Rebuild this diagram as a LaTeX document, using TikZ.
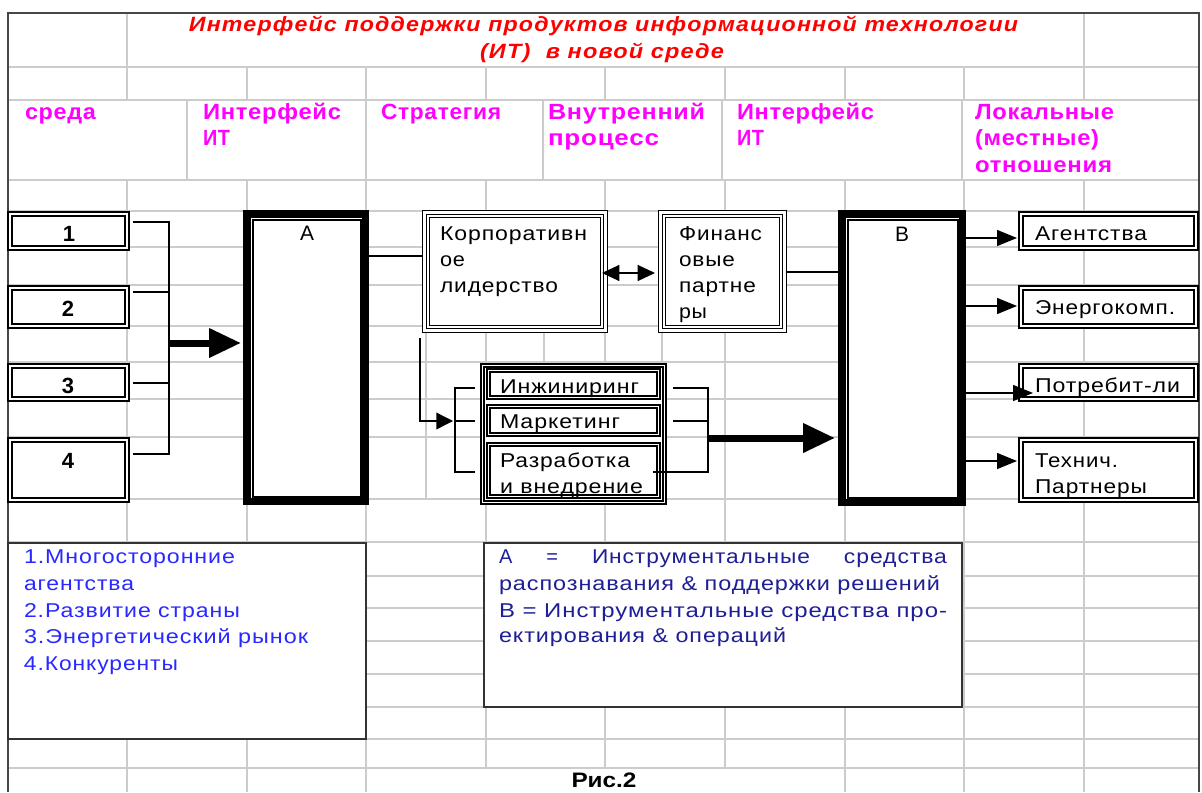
\documentclass[tikz,border=0pt]{standalone}
\usepackage{fontspec}
\setmainfont{Liberation Sans}
\newfontfamily\dgfont[LetterSpace=4]{Liberation Sans}
\newfontfamily\hdfont[LetterSpace=3]{Liberation Sans}
\newfontfamily\tlfont[LetterSpace=5]{Liberation Sans}
\usetikzlibrary{arrows.meta,fit,calc}
\newdimen\pxu \pxu=0.75pt
\newcommand\fw[2]{\resizebox{#1\pxu}{\height}{#2}}
\definecolor{gridc}{RGB}{204,204,204}
\definecolor{framec}{RGB}{70,70,70}
\definecolor{titlered}{RGB}{255,0,0}
\definecolor{hdmag}{RGB}{255,0,255}
\definecolor{lgblue}{RGB}{40,40,255}
\definecolor{lgnavy}{RGB}{30,30,150}
\newcommand\dblframe[2]{%
  \draw[bline] ($(#1.north west)+(1.2,1.2)$) rectangle ($(#1.south east)+(-1.2,-1.2)$);
  \draw[bline] ($(#1.north west)+(#2,#2)$) rectangle ($(#1.south east)+(-#2,-#2)$);}
\newcommand\triframe[1]{%
  \draw[tline] ($(#1.north west)+(0.8,0.8)$) rectangle ($(#1.south east)+(-0.8,-0.8)$);
  \draw[tline] ($(#1.north west)+(4.2,4.2)$) rectangle ($(#1.south east)+(-4.2,-4.2)$);
  \draw[tline] ($(#1.north west)+(7.6,7.6)$) rectangle ($(#1.south east)+(-7.6,-7.6)$);}
\newcommand\heavyframe[1]{%
  \fill[black] (#1.north west) rectangle (#1.south east);
  \fill[white] ($(#1.north west)+(7.5,7.5)$) rectangle ($(#1.south east)+(-7.5,-7.5)$);
  \draw[line width=1.1pt] ($(#1.north west)+(10,10)$) rectangle ($(#1.south east)+(-8,-8)$);}
\begin{document}
\begin{tikzpicture}[x=0.75pt,y=-0.75pt,
  grid/.style={gridc,line width=1.2pt},
  bx/.style={inner sep=0pt,outer sep=0pt,fill=white},
  bline/.style={black,line width=1.1pt},
  tline/.style={black,line width=0.95pt},
  legline/.style={black!80,line width=1.1pt},
  tx/.style={anchor=base west,inner sep=0pt,outer sep=0pt},
  dg/.style={font=\dgfont\fontsize{15}{17}\selectfont},
  hd/.style={text=hdmag,font=\hdfont\bfseries\fontsize{16.5}{18}\selectfont},
  tl/.style={anchor=base,inner sep=0pt,text=titlered,font=\tlfont\bfseries\itshape\fontsize{15.5}{17}\selectfont},
  num/.style={anchor=base,inner sep=0pt,font=\bfseries\fontsize{16.5}{18}\selectfont},
  conn/.style={black,line width=1pt},
  sarr/.style={conn,-{Triangle[length=15pt,width=12pt]}},
  midarr/.style={conn,-{Triangle[length=12.5pt,width=12.5pt]}},
  dbl/.style={conn,{Triangle[length=13pt,width=12pt]}-{Triangle[length=13pt,width=12pt]}},
  fat/.style={black,line width=5.25pt,-{Triangle[length=24pt,width=21pt]}}]
\useasboundingbox (0,0) rectangle (1202,792);
\fill[white] (0,0) rectangle (1202,792);
% grid
\foreach \y in {67,100,180,211,247,285,326,362,399,437,499,542,576,608,641,674,707,739,768}
  \draw[grid] (8,\y) -- (1199,\y);
\foreach \x in {127,1084} \draw[grid] (\x,13) -- (\x,67);
\foreach \x in {127,247,366,486,605,725,845,964,1084} \draw[grid] (\x,67) -- (\x,100);
\foreach \x in {187,366,543,722,962} \draw[grid] (\x,100) -- (\x,180);
\foreach \x in {127,247,366,486,605,725,845,964,1084} \draw[grid] (\x,180) -- (\x,211);
\foreach \x in {127,247,366,426,486,544,605,662,725,845,964,1084} \draw[grid] (\x,211) -- (\x,499);
\foreach \x in {127,247,366,486,605,725,845,964,1084} \draw[grid] (\x,499) -- (\x,768);
\foreach \x in {127,247,366,845,964,1084} \draw[grid] (\x,768) -- (\x,792);
\draw[framec,line width=1.1pt] (8,792) -- (8,13) -- (1199,13) -- (1199,792);
% title and headers
\node[tl] (tl1) at (603.5,32) {\fw{829}{Интерфейс поддержки продуктов информационной технологии}};
\node[tl] (tl2) at (602,59) {\fw{244}{(ИТ)\ \ в новой среде}};
\node[tx,hd] (h1) at (25,119) {\fw{71}{среда}};
\node[tx,hd] (h2a) at (203,119) {\fw{138}{Интерфейс}};
\node[tx,hd] (h2b) at (203,145) {\fw{27}{ИТ}};
\node[tx,hd] (h3) at (381,119) {\fw{120}{Стратегия}};
\node[tx,hd] (h4a) at (548,119) {\fw{157}{Внутренний}};
\node[tx,hd] (h4b) at (548,145) {\fw{111}{процесс}};
\node[tx,hd] (h5a) at (737,119) {\fw{137}{Интерфейс}};
\node[tx,hd] (h5b) at (737,145) {\fw{27}{ИТ}};
\node[tx,hd] (h6a) at (975,119) {\fw{139}{Локальные}};
\node[tx,hd] (h6b) at (975,145) {\fw{124}{(местные)}};
\node[tx,hd] (h6c) at (975,172) {\fw{137}{отношения}};
% boxes
\node[bx,fit={(7,211) (130,251)}] (b1) {};
\node[bx,fit={(7,285) (130,329)}] (b2) {};
\node[bx,fit={(7,363) (130,402)}] (b3) {};
\node[bx,fit={(7,437) (130,503)}] (b4) {};
\node[bx,fit={(1018,211) (1199,251)}] (r1) {};
\node[bx,fit={(1018,285) (1199,329)}] (r2) {};
\node[bx,fit={(1018,363) (1199,402)}] (r3) {};
\node[bx,fit={(1018,437) (1199,503)}] (r4) {};
\foreach \n in {b1,b2,b3,b4,r1,r2,r3,r4} {\dblframe{\n}{4.9}}
\node[bx,fit={(243,210) (369,505)}] (A) {};
\node[bx,fit={(838,210) (966,506)}] (B) {};
\heavyframe{A}
\heavyframe{B}
\node[bx,fit={(422,210) (608,333)}] (K) {};
\node[bx,fit={(658,210) (787,333)}] (F) {};
\triframe{K}
\triframe{F}
\node[bx,fit={(480,363) (667,505)}] (G) {};
\dblframe{G}{3.8}
\node[bx,fit={(486,368) (661,400)}] (e1) {};
\node[bx,fit={(486,404) (661,437)}] (e2) {};
\node[bx,fit={(486,442) (661,499)}] (e3) {};
\foreach \n in {e1,e2,e3} {\dblframe{\n}{4.2}}
\node[bx,fit={(8,543) (366,739)}] (L1) {};
\node[bx,fit={(484,543) (962,707)}] (L2) {};
\draw[legline] (L1.north west) rectangle (L1.south east);
\draw[legline] (L2.north west) rectangle (L2.south east);
% box texts
\node[num] (n1) at (69,241) {1};
\node[num] (n2) at (68,316) {2};
\node[num] (n3) at (68,393) {3};
\node[num] (n4) at (68,468) {4};
\node[anchor=base,inner sep=0pt,font=\fontsize{15.7}{18}\selectfont] (ta) at (307,240) {А};
\node[anchor=base,inner sep=0pt,font=\fontsize{15.7}{18}\selectfont] (tb) at (902,241) {В};
\node[tx,dg] (k1) at (440,240) {\fw{147}{Корпоративн}};
\node[tx,dg] (k2) at (440,266) {\fw{25}{ое}};
\node[tx,dg] (k3) at (440,292) {\fw{118}{лидерство}};
\node[tx,dg] (f1) at (679,240) {\fw{83}{Финанс}};
\node[tx,dg] (f2) at (679,266) {\fw{56}{овые}};
\node[tx,dg] (f3) at (679,292) {\fw{77}{партне}};
\node[tx,dg] (f4) at (679,318) {\fw{28}{ры}};
\node[tx,dg] (g1) at (500,393) {\fw{139}{Инжиниринг}};
\node[tx,dg] (g2) at (500,428) {\fw{120}{Маркетинг}};
\node[tx,dg] (g3) at (500,467) {\fw{130}{Разработка}};
\node[tx,dg] (g4) at (500,493) {\fw{143}{и внедрение}};
\node[tx,dg] (s1) at (1035,240) {\fw{112}{Агентства}};
\node[tx,dg] (s2) at (1035,314) {\fw{140}{Энергокомп.}};
\node[tx,dg] (s3) at (1035,392) {\fw{145}{Потребит-ли}};
\node[tx,dg] (s4) at (1035,467) {\fw{83}{Технич.}};
\node[tx,dg] (s5) at (1035,493) {\fw{112}{Партнеры}};
% legends
\node[tx,dg,text=lgblue] (l1) at (24,563) {\fw{211}{1.Многосторонние}};
\node[tx,dg,text=lgblue] (l2) at (24,590) {\fw{110}{агентства}};
\node[tx,dg,text=lgblue] (l3) at (24,617) {\fw{216}{2.Развитие страны}};
\node[tx,dg,text=lgblue] (l4) at (24,643) {\fw{284}{3.Энергетический рынок}};
\node[tx,dg,text=lgblue] (l5) at (24,670) {\fw{154}{4.Конкуренты}};
\node[tx,dg,text=lgnavy] (m1) at (499,563) {\hbox to 448\pxu{А\hfill=\hfill\fw{218}{Инструментальные}\hfill\fw{103}{средства}}};
\node[tx,dg,text=lgnavy] (m2) at (499,590) {\fw{441}{распознавания \& поддержки решений}};
\node[tx,dg,text=lgnavy] (m3) at (499,617) {\fw{448}{В = Инструментальные средства про-}};
\node[tx,dg,text=lgnavy] (m4) at (499,642) {\fw{287}{ектирования \& операций}};
\node[anchor=base,inner sep=0pt,font=\bfseries\fontsize{15.7}{18}\selectfont] (cap) at (604,787) {\fw{65}{Рис.2}};
% connectors: left bracket
\coordinate (lt) at (169,222);
\coordinate (lb) at (169,454);
\coordinate (lm) at (169,343);
\draw[conn] ($(b1.east)+(3,-9)$) -- (lt) -- (lb) -- ($(b4.east)+(3,-16)$);
\draw[conn] ($(b2.east)+(3,-15)$) -- ++(36,0);
\draw[conn] ($(b3.east)+(3,0.5)$) -- ++(36,0);
\draw[fat] (lm) -- ($(lm -| A.west)+(-2,0)$);
% A - K, K <-> F, F - B
\coordinate (ya) at (0,256);
\coordinate (yb) at (0,273);
\coordinate (yc) at (0,272);
\draw[conn] (A.east |- ya) -- (K.west |- ya);
\draw[dbl] ($(K.east |- yb)+(-6,0)$) -- ($(F.west |- yb)+(-3,0)$);
\draw[conn] (F.east |- yc) -- (B.west |- yc);
% K down to the group
\coordinate (mj) at (455,421);
\draw[midarr] ($(K.south west)+(-2,5)$) |- ($(mj)+(-2,0)$);
\draw[conn] ($(e1.west)+(-11,4)$) -| ($(e3.west)+(-31,1.5)$) -- ($(e3.west)+(-11,1.5)$);
\draw[conn] (mj) -- ($(e2.west)+(-11,0.5)$);
% group right bracket to B
\coordinate (rj) at (708,438);
\draw[conn] ($(e1.east)+(12,4)$) -| ($(e3.east)+(47,1.5)$) -- ($(e3.east)+(-8,1.5)$);
\draw[conn] ($(e2.east)+(12,0.5)$) -- ($(e2.east)+(47,0.5)$);
\draw[fat] (rj) -- ($(rj -| B.west)+(-3,0)$);
% B to the right boxes
\coordinate (q1) at ($(r1.west)+(0,7)$);
\coordinate (q2) at ($(r2.west)+(0,-1)$);
\coordinate (q3) at ($(r3.west)+(0,10.5)$);
\coordinate (q4) at ($(r4.west)+(0,-9)$);
\draw[sarr] (q1 -| B.east) -- ($(q1)+(-1,0)$);
\draw[sarr] (q2 -| B.east) -- ($(q2)+(-1,0)$);
\draw[sarr] (q3 -| B.east) -- ($(q3)+(15,0)$);
\draw[sarr] (q4 -| B.east) -- ($(q4)+(-1,0)$);
\end{tikzpicture}
\end{document}
